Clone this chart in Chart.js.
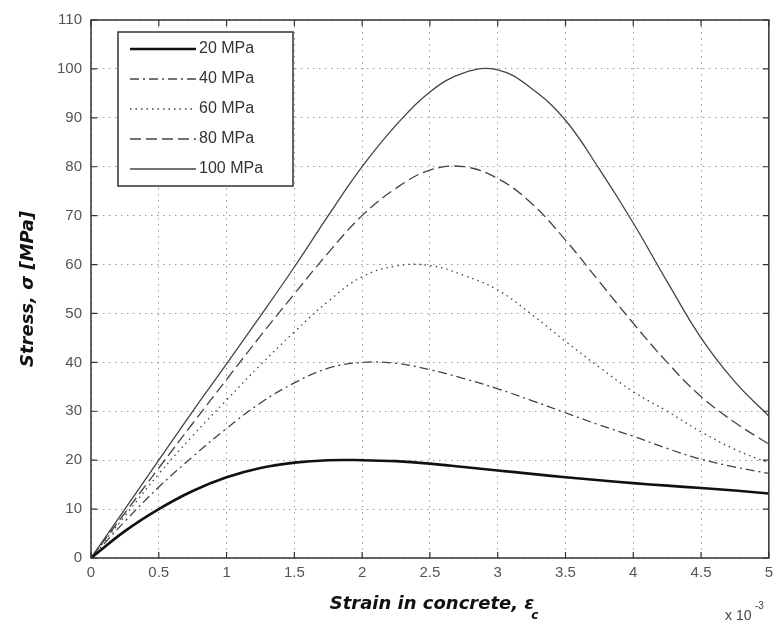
<!DOCTYPE html>
<html>
<head>
<meta charset="utf-8">
<title>Stress-strain curves</title>
<script src="https://cdn.jsdelivr.net/npm/chart.js@4.4.1/dist/chart.umd.min.js"></script>
<style>
    html, body { margin: 0; padding: 0; background: #fff; }
    canvas { display: block; }
</style>
</head>
<body>
<canvas id="stressChart" width="779" height="628"></canvas>
<script>
// strain, x 10^-3
var strain = [0, 0.25, 0.5, 0.75, 1, 1.25, 1.5, 1.75, 2, 2.25, 2.5, 2.75, 3, 3.25, 3.5, 3.75, 4, 4.25, 4.5, 4.75, 5];

// stress in MPa for each concrete strength
var stress20 = [0, 5.5, 10, 13.7, 16.5, 18.4, 19.5, 20, 20, 19.8, 19.3, 18.6, 17.9, 17.2, 16.5, 15.9, 15.3, 14.8, 14.3, 13.8, 13.2];
var stress40 = [0, 7.5, 14.5, 20.7, 26.5, 31.7, 35.8, 38.8, 40, 39.8, 38.5, 36.7, 34.6, 32.2, 29.7, 27.2, 24.9, 22.4, 20.2, 18.6, 17.3];
var stress60 = [0, 8.6, 17.2, 25, 32.3, 39.5, 46.2, 52.5, 57.5, 59.7, 59.8, 57.8, 54.8, 49.8, 44.3, 39, 34, 30, 25.8, 22.2, 19.4];
var stress80 = [0, 9.2, 18.4, 27.5, 36.5, 45.4, 54, 62.4, 70, 75.6, 79.3, 80, 77.6, 72.5, 65, 56.5, 48, 40, 33, 27.7, 23.3];
var stress100 = [0, 10, 20, 30, 39.7, 49.5, 59.5, 70, 80, 88.5, 95.3, 99.2, 99.8, 96, 89.5, 79.5, 68.5, 56.5, 45, 36, 29];

var seriesLabels = ['20 MPa', '40 MPa', '60 MPa', '80 MPa', '100 MPa'];

var xTickLabels = ['0', '0.5', '1', '1.5', '2', '2.5', '3', '3.5', '4', '4.5', '5'];
var yTickLabels = ['0', '10', '20', '30', '40', '50', '60', '70', '80', '90', '100', '110'];

var tickFont = { family: 'Liberation Sans', size: 15 };
var titleFont = 'italic bold 18px "DejaVu Sans"';

function points(values) {
    return values.map(function (v, i) { return { x: strain[i], y: v }; });
}

// box, inward ticks, legend and axis titles
var framePlugin = {
    id: 'frame',
    afterDatasetsDraw: function (chart) {
        var c = chart.ctx;
        var area = chart.chartArea;
        var xs = chart.scales.x;
        var ys = chart.scales.y;

        c.save();
        c.strokeStyle = '#333';
        c.lineWidth = 1.5;
        c.setLineDash([]);
        c.strokeRect(area.left, area.top, area.right - area.left, area.bottom - area.top);

        c.lineWidth = 1.2;
        c.beginPath();
        xs.ticks.forEach(function (t) {
            var px = xs.getPixelForValue(t.value);
            c.moveTo(px, area.bottom); c.lineTo(px, area.bottom - 6);
            c.moveTo(px, area.top); c.lineTo(px, area.top + 6);
        });
        ys.ticks.forEach(function (t) {
            var py = ys.getPixelForValue(t.value);
            c.moveTo(area.left, py); c.lineTo(area.left + 6, py);
            c.moveTo(area.right, py); c.lineTo(area.right - 6, py);
        });
        c.stroke();

        // legend box
        var lx = 118, ly = 32, lw = 175, lh = 154;
        c.fillStyle = '#fff';
        c.fillRect(lx, ly, lw, lh);
        c.strokeStyle = '#333';
        c.lineWidth = 1.5;
        c.strokeRect(lx, ly, lw, lh);
        c.font = '16px "Liberation Sans"';
        c.textBaseline = 'middle';
        c.textAlign = 'left';
        chart.data.datasets.forEach(function (ds, i) {
            var ry = ly + 17 + i * 30;
            c.beginPath();
            c.strokeStyle = ds.borderColor;
            c.lineWidth = ds.borderWidth;
            c.setLineDash(ds.borderDash || []);
            c.moveTo(lx + 12, ry);
            c.lineTo(lx + 78, ry);
            c.stroke();
            c.fillStyle = '#333';
            c.fillText(ds.label, lx + 81, ry);
        });
        c.setLineDash([]);

        // x axis title with subscript
        c.fillStyle = '#111';
        c.font = titleFont;
        c.textBaseline = 'alphabetic';
        var xt = 'Strain in concrete, \u03b5';
        var w = c.measureText(xt).width;
        var x0 = 432 - w / 2;
        c.fillText(xt, x0, 609);
        c.font = 'italic bold 12px "DejaVu Sans"';
        c.fillText('c', x0 + w - 3, 619);

        // exponent note
        c.font = '14px "Liberation Sans"';
        c.fillStyle = '#444';
        c.fillText('x 10', 725, 620);
        c.font = '10px "Liberation Sans"';
        c.fillText('-3', 755, 609);

        // y axis title
        c.translate(33, 289);
        c.rotate(-Math.PI / 2);
        c.font = titleFont;
        c.fillStyle = '#111';
        c.textAlign = 'center';
        c.fillText('Stress, \u03c3 [MPa]', 0, 0);
        c.restore();
    }
};

var ctx = document.getElementById('stressChart').getContext('2d');
var stressChart = new Chart(ctx, {
    type: 'line',
    data: {
        datasets: [{
            label: seriesLabels[0],
            data: points(stress20),
            borderColor: '#111',
            borderWidth: 2.6
        }, {
            label: seriesLabels[1],
            data: points(stress40),
            borderColor: '#444',
            borderWidth: 1.3,
            borderDash: [9, 4, 2, 4]
        }, {
            label: seriesLabels[2],
            data: points(stress60),
            borderColor: '#444',
            borderWidth: 1.3,
            borderDash: [1.5, 4]
        }, {
            label: seriesLabels[3],
            data: points(stress80),
            borderColor: '#444',
            borderWidth: 1.3,
            borderDash: [11, 5]
        }, {
            label: seriesLabels[4],
            data: points(stress100),
            borderColor: '#444',
            borderWidth: 1.3
        }]
    },
    options: {
        responsive: false,
        animation: false,
        parsing: false,
        layout: { padding: { left: 0, right: 3, top: 20, bottom: 0 } },
        elements: {
            point: { radius: 0 },
            line: { fill: false, tension: 0.4 }
        },
        plugins: {
            legend: { display: false },
            tooltip: { enabled: false }
        },
        scales: {
            x: {
                type: 'linear',
                min: 0,
                max: 5,
                afterFit: function (scale) { scale.height = 70; },
                afterBuildTicks: function (scale) {
                    scale.ticks = xTickLabels.map(function (t) { return { value: parseFloat(t) }; });
                },
                ticks: {
                    font: tickFont,
                    color: '#555',
                    padding: 6,
                    maxRotation: 0,
                    autoSkip: false,
                    callback: function (value, index) { return xTickLabels[index]; }
                },
                grid: { color: '#999', lineWidth: 1, drawTicks: false },
                border: { display: false, dash: [1.5, 4.5] }
            },
            y: {
                type: 'linear',
                min: 0,
                max: 110,
                afterFit: function (scale) { scale.width = 91; },
                afterBuildTicks: function (scale) {
                    scale.ticks = yTickLabels.map(function (t) { return { value: parseFloat(t) }; });
                },
                ticks: {
                    font: tickFont,
                    color: '#555',
                    padding: 9,
                    autoSkip: false,
                    callback: function (value, index) { return yTickLabels[index]; }
                },
                grid: { color: '#999', lineWidth: 1, drawTicks: false },
                border: { display: false, dash: [1.5, 4.5] }
            }
        }
    },
    plugins: [framePlugin]
});
</script>
</body>
</html>
